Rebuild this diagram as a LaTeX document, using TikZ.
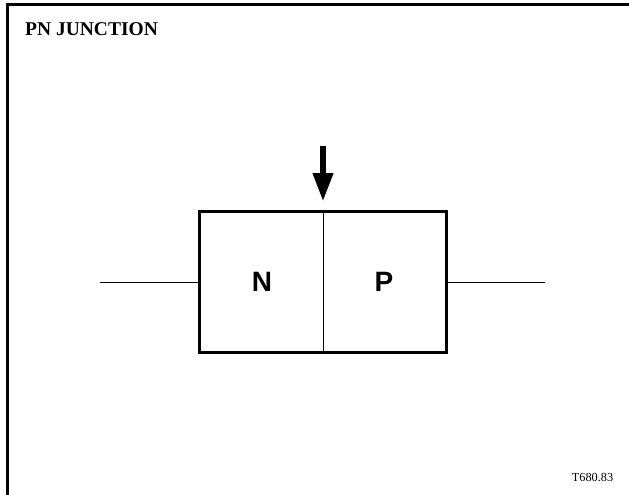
\documentclass[tikz,border=0pt]{standalone}
\usepackage{fontspec}
\setmainfont{Liberation Serif}
\newfontfamily\arialfont{Liberation Sans}
\usetikzlibrary{arrows.meta}
\begin{document}
\begin{tikzpicture}[x=1pt,y=-1pt,
  frameline/.style={line width=3pt},
  junctionbox/.style={draw,line width=3pt,minimum width=247.7pt,minimum height=140.8pt,inner sep=0pt},
  thinline/.style={line width=1pt},
  regionlabel/.style={font=\arialfont\bfseries\fontsize{28}{30}\selectfont,inner sep=0pt,anchor=base},
  bigarrow/.style={line width=6.5pt,-{Triangle[width=19pt,length=28.5pt]}}
]
\useasboundingbox (0,0) rectangle (629,495);
\draw[frameline] (7.5,495) -- (7.5,5) -- (629,5);
\node[font=\bfseries\fontsize{19.5}{22}\selectfont,anchor=base west,inner sep=0pt] (title) at (25,36) {PN JUNCTION};
\node[junctionbox] (box) at (323,282.1) {};
\draw[thinline] (box.north) -- (box.south);
\coordinate (leadL) at (100,282.1);
\coordinate (leadR) at (545,282.1);
\draw[thinline] (leadL) -- (box.west);
\draw[thinline] (box.east) -- (leadR);
\node[regionlabel] (N) at (262,291.7) {N};
\node[regionlabel] (P) at (384,291.7) {P};
\coordinate (arrowtop) at (323,146);
\coordinate (arrowtip) at (323,201.7);
\draw[bigarrow] (arrowtop) -- (arrowtip);
\node[font=\fontsize{12.3}{14}\selectfont,anchor=base west,inner sep=0pt] (code) at (571.7,481.7) {T680.83};
\end{tikzpicture}
\end{document}
